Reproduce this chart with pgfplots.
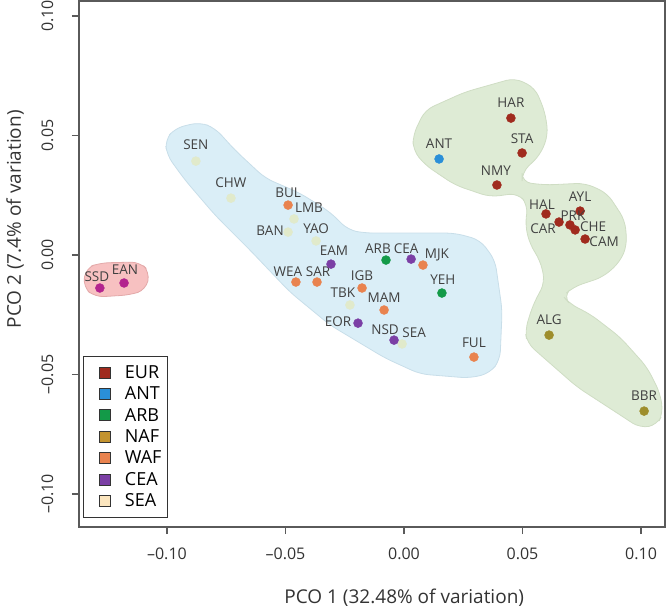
\documentclass[border=0pt]{standalone}
\usepackage{pgfplots}
\pgfplotsset{compat=1.18}
\usepackage{pgfplotstable}
\usepackage{fontspec}
\setmainfont{Open Sans}

\definecolor{eurc}{HTML}{A02B1E}
\definecolor{antc}{HTML}{2A8FD8}
\definecolor{arbc}{HTML}{139A48}
\definecolor{nafc}{HTML}{9E8E2C}
\definecolor{nafleg}{HTML}{C3932F}
\definecolor{wafc}{HTML}{E9834F}
\definecolor{ceac}{HTML}{7B3FA5}
\definecolor{seac}{HTML}{E1EACB}
\definecolor{sealeg}{HTML}{FBE5BE}
\definecolor{magc}{HTML}{B3248E}
\definecolor{pinkfill}{HTML}{F7C1C1}
\definecolor{pinkline}{HTML}{E3A9A9}
\definecolor{bluefill}{HTML}{DAEEF7}
\definecolor{blueline}{HTML}{C8DEE9}
\definecolor{greenfill}{HTML}{DEEBD5}
\definecolor{greenline}{HTML}{CFDDC4}
\definecolor{framec}{HTML}{5A5A5A}
\definecolor{labc}{HTML}{404040}

\newcommand\labfont{\fontsize{13.5}{15}\selectfont}

% points: x y, label, label offset (pt) from the dot
\pgfplotstableread{
x y lab dx dy
0.0451 0.0573 HAR 0 15
0.0498 0.0427 STA 0 14
0.0392 0.0293 NMY -1 14
0.0599 0.0172 HAL -4 9
0.0743 0.0184 AYL 0 14
0.0654 0.0138 CAR -16 -7
0.0700 0.0126 PRK 3 9
0.0722 0.0105 CHE 18 3
0.0764 0.0067 CAM 19 -3
}\eur
\pgfplotstableread{
x y lab dx dy
0.0148 0.0402 ANT 0 15
}\ant
\pgfplotstableread{
x y lab dx dy
-0.0076 -0.0021 ARB -8 11
0.0160 -0.0159 YEH 1 13
}\arb
\pgfplotstableread{
x y lab dx dy
0.0612 -0.0335 ALG 0 15
0.1013 -0.0653 BBR 0 15
}\naf
\pgfplotstableread{
x y lab dx dy
-0.0489 0.0209 BUL 0 12
0.0080 -0.0042 MJK 14 10
-0.0456 -0.0113 WEA -8 10
-0.0367 -0.0113 SAR 1 10
-0.0177 -0.0138 IGB 0 12
-0.0084 -0.0230 MAM 0 12
0.0295 -0.0427 FUL 0 14
}\waf
\pgfplotstableread{
x y lab dx dy
-0.0308 -0.0038 EAM 3 13
0.0030 -0.0017 CEA -5 10
-0.0194 -0.0285 EOR -20 1
-0.0042 -0.0356 NSD -9 10
}\cea
\pgfplotstableread{
x y lab dx dy
-0.0878 0.0393 SEN 0 16
-0.0730 0.0238 CHW 0 15
-0.0464 0.0151 LMB 15 11
-0.0489 0.0096 BAN -18 1
-0.0371 0.0059 YAO 0 12
-0.0228 -0.0209 TBK -7 12
-0.0008 -0.0372 SEA 12 11
}\sea
\pgfplotstableread{
x y lab dx dy
-0.1283 -0.0138 SSD -3 11
-0.1181 -0.0117 EAN 1 13
}\other

\pgfplotsset{
  pts/.style={only marks, color=#1, mark=*, mark size=4.5pt,
    mark options={draw=none, fill=#1},
    point meta=explicit symbolic, nodes near coords,
    visualization depends on={\thisrow{dx}\as\dx},
    visualization depends on={\thisrow{dy}\as\dy},
    every node near coord/.append style={anchor=center, inner sep=0pt,
      xshift=\dx pt, yshift=\dy pt, text=labc, font=\labfont},
    forget plot},
  hull/.style 2 args={fill=#1, draw=#2, line width=0.8pt, rounded corners=9pt, forget plot},
}

\begin{document}
\begin{tikzpicture}
\begin{axis}[
  name=ax,
  scale only axis,
  width=586pt, height=526pt,
  xmin=-0.1371, xmax=0.1101,
  ymin=-0.1138, ymax=0.1063,
  xtick={-0.1,-0.05,0,0.05,0.1},
  xticklabels={--0.10,--0.05,0.00,0.05,0.10},
  ytick={-0.1,-0.05,0,0.05,0.1},
  yticklabels={--0.10,--0.05,0.00,0.05,0.10},
  tick align=outside, tick pos=left,
  major tick length=7pt,
  axis line style={draw=framec, line width=1.3pt},
  every tick/.style={framec, line width=1.3pt},
  tick label style={font=\fontsize{16}{19}\selectfont, text=black!80},
  xticklabel style={yshift=-10pt},
  yticklabel style={xshift=-15pt, rotate=90, anchor=south},
  xlabel={PCO 1 (32.48\% of variation)},
  ylabel={PCO 2 (7.4\% of variation)},
  every axis x label/.style={at={(axis description cs:0.555,-0.134)}, anchor=center,
    font=\fontsize{19}{22}\selectfont, text=black!80},
  every axis y label/.style={at={(axis description cs:-0.109,0.585)}, rotate=90, anchor=center,
    font=\fontsize{19}{22}\selectfont, text=black!80},
  legend image code/.code={\path (0pt,0pt) (34pt,0pt);
    \draw[#1, draw=black!80, line width=0.8pt] (11pt,-5.5pt) rectangle (22pt,5.5pt);},
  legend style={at={(axis description cs:0.007,0.017)}, anchor=south west,
    draw=black!80, line width=1.2pt, font=\fontsize{18}{21}\selectfont,
    inner xsep=4pt, inner ysep=7pt, row sep=3pt, cells={anchor=west}},
]
% convex hulls
\addplot[hull={pinkfill}{pinkline}] coordinates {
(-0.1342,-0.0054) (-0.1283,-0.0033) (-0.1114,-0.0029) (-0.1072,-0.0071)
(-0.1089,-0.0146) (-0.1156,-0.0167) (-0.1304,-0.0176) (-0.1354,-0.0134)
} -- cycle;
\addplot[hull={bluefill}{blueline}] coordinates {
(-0.1008,0.0481) (-0.0966,0.0531) (-0.0861,0.0556) (-0.0797,0.0531)
(-0.0713,0.0439) (-0.0586,0.0322) (-0.0439,0.0259) (-0.0312,0.0180)
(-0.0236,0.0105) (-0.0165,0.0092) (0.0215,0.0092) (0.0321,0.0063)
(0.0384,-0.0021) (0.0414,-0.0230) (0.0405,-0.0439) (0.0363,-0.0494)
(0.0278,-0.0515) (0.0068,-0.0498) (-0.0080,-0.0431) (-0.0312,-0.0293)
(-0.0481,-0.0155) (-0.0650,0.0021) (-0.0797,0.0167) (-0.0924,0.0314)
(-0.1000,0.0418)
} -- cycle;
\addplot[hull={greenfill}{greenline}] coordinates {
(0.0038,0.0502) (0.0089,0.0607) (0.0257,0.0682) (0.0468,0.0741)
(0.0553,0.0699) (0.0595,0.0598) (0.0608,0.0502) (0.0574,0.0418)
(0.0498,0.0347) (0.0498,0.0305) (0.0595,0.0293) (0.0764,0.0301)
(0.0857,0.0259) (0.0932,0.0146) (0.0941,0.0042) (0.0911,-0.0029)
(0.0840,-0.0092) (0.0713,-0.0134) (0.0671,-0.0172) (0.0700,-0.0205)
(0.0785,-0.0247) (0.0911,-0.0343) (0.1025,-0.0469) (0.1080,-0.0577)
(0.1093,-0.0661) (0.1068,-0.0711) (0.0996,-0.0724) (0.0899,-0.0661)
(0.0730,-0.0552) (0.0586,-0.0427) (0.0519,-0.0368) (0.0511,-0.0314)
(0.0544,-0.0209) (0.0595,-0.0113) (0.0574,-0.0021) (0.0532,0.0042)
(0.0511,0.0126) (0.0523,0.0209) (0.0481,0.0259) (0.0363,0.0243)
(0.0215,0.0293) (0.0089,0.0377) (0.0038,0.0439)
} -- cycle;

% populations
\addplot[pts=seac] table[x=x, y=y, meta=lab] {\sea};
\addplot[pts=eurc] table[x=x, y=y, meta=lab] {\eur};
\addplot[pts=antc] table[x=x, y=y, meta=lab] {\ant};
\addplot[pts=arbc] table[x=x, y=y, meta=lab] {\arb};
\addplot[pts=nafc] table[x=x, y=y, meta=lab] {\naf};
\addplot[pts=wafc] table[x=x, y=y, meta=lab] {\waf};
\addplot[pts=ceac] table[x=x, y=y, meta=lab] {\cea};
\addplot[pts=magc] table[x=x, y=y, meta=lab] {\other};

% legend
\addlegendimage{fill=eurc}\addlegendentry{EUR}
\addlegendimage{fill=antc}\addlegendentry{ANT}
\addlegendimage{fill=arbc}\addlegendentry{ARB}
\addlegendimage{fill=nafleg}\addlegendentry{NAF}
\addlegendimage{fill=wafc}\addlegendentry{WAF}
\addlegendimage{fill=ceac}\addlegendentry{CEA}
\addlegendimage{fill=sealeg}\addlegendentry{SEA}
\end{axis}
\pgfresetboundingbox
\path[use as bounding box] ([xshift=-79pt,yshift=-81pt]ax.south west) rectangle ([xshift=2pt,yshift=1pt]ax.north east);
\end{tikzpicture}
\end{document}
